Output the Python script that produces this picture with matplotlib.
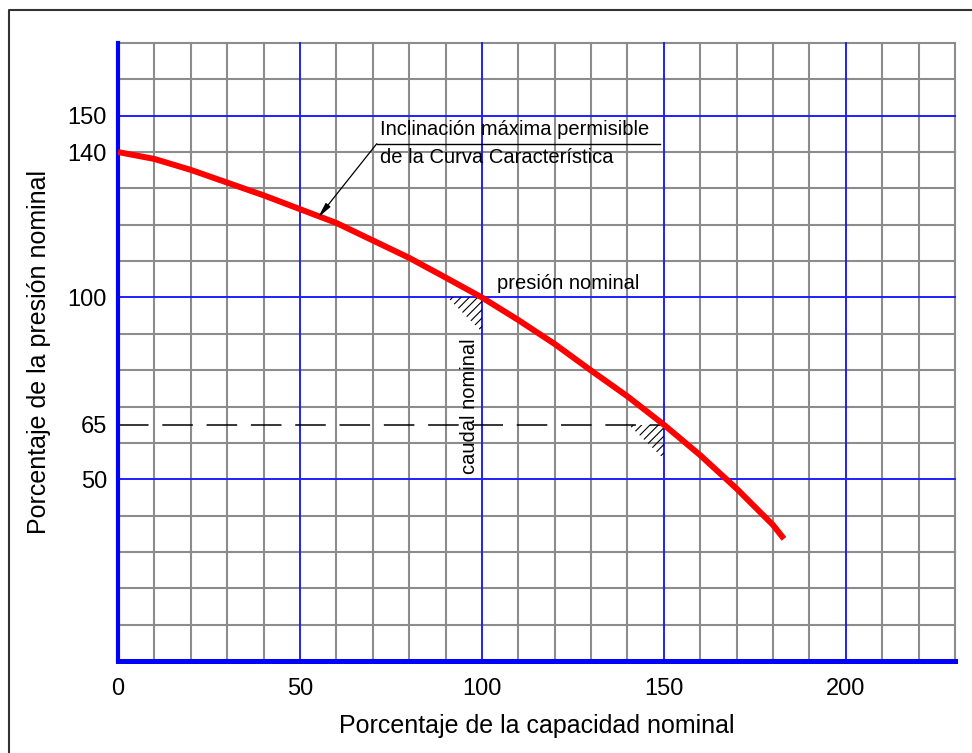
#!/usr/bin/env python3
"""Curva característica de una bomba contra incendio (porcentajes nominales)."""

import matplotlib.pyplot as plt
from matplotlib.lines import Line2D
from matplotlib.patches import Polygon

plt.rcParams["font.family"] = ["Liberation Sans", "DejaVu Sans"]
plt.rcParams["hatch.linewidth"] = 0.8

# curva característica
FLOW = [0, 10, 20, 30, 40, 50, 60, 70, 80, 90, 100,
        110, 120, 130, 140, 150, 160, 170, 180, 183]
PRESSURE = [140, 138.1, 135.1, 131.6, 128.1, 124.3, 120.5, 115.7, 110.9, 105.5, 100,
            93.8, 87.2, 79.9, 72.8, 65, 56.6, 47.4, 37.4, 33.6]

X_TICKS = [0, 50, 100, 150, 200]
Y_TICKS = [50, 65, 100, 140, 150]
X_MAX = 230
Y_MAX = 170

NOMINAL_FLOW = 100
NOMINAL_PRESSURE = 100
OVERLOAD_FLOW = 150
OVERLOAD_PRESSURE = 65

GRAY = "#8c8c8c"
BLUE = "#1f1fff"

fig = plt.figure(figsize=(9.72, 7.53), dpi=100)
ax = fig.add_axes([118 / 972, 92 / 753, 837 / 972, 618 / 753])
ax.set_xlim(0, X_MAX)
ax.set_ylim(0, Y_MAX)

# cuadrícula: gris cada 10, azul cada 50
for v in range(0, X_MAX + 1, 10):
    major = v % 50 == 0
    ax.axvline(v, color=BLUE if major else GRAY, lw=1.4 if major else 1.5,
               zorder=2 if major else 1, clip_on=False)
for v in range(0, Y_MAX + 1, 10):
    major = v % 50 == 0
    ax.axhline(v, color=BLUE if major else GRAY, lw=1.4 if major else 1.5,
               zorder=2 if major else 1, clip_on=False)

for name in ["top", "right"]:
    ax.spines[name].set_visible(False)
ax.spines["left"].set_color("#0000ff")
ax.spines["left"].set_linewidth(3.0)
ax.spines["bottom"].set_color("#0000ff")
ax.spines["bottom"].set_linewidth(3.6)
ax.spines["left"].set_zorder(4)
ax.spines["bottom"].set_zorder(4)

# línea de 65 % a trazos
ax.plot([0, OVERLOAD_FLOW], [OVERLOAD_PRESSURE, OVERLOAD_PRESSURE],
        color="black", lw=1.1, dashes=(20, 9), zorder=3)

# zonas rayadas en los puntos nominales
for fx, py in [(NOMINAL_FLOW, NOMINAL_PRESSURE), (OVERLOAD_FLOW, OVERLOAD_PRESSURE)]:
    tri = Polygon([(fx - 9.5, py), (fx, py), (fx, py - 9.5)], closed=True,
                  facecolor="none", edgecolor="black", lw=0, hatch="////", zorder=3)
    ax.add_patch(tri)

ax.plot(FLOW, PRESSURE, color="#ff0000", lw=4.3, solid_capstyle="butt",
        solid_joinstyle="round", zorder=5)

# anotaciones
ax.text(72.0, 146.3, "Inclinación máxima permisible", fontsize=14.5,
        ha="left", va="center", zorder=6)
ax.text(72.0, 138.6, "de la Curva Característica", fontsize=14.5,
        ha="left", va="center", zorder=6)
ax.plot([71.1, 149.0], [142.3, 142.3], color="black", lw=1.0, zorder=6)
ax.annotate("", xy=(55.0, 122.0), xytext=(71.1, 142.3),
            arrowprops=dict(arrowstyle="-|>,head_length=0.9,head_width=0.18",
                            color="black", lw=0.9, shrinkA=0, shrinkB=0),
            zorder=6)
ax.text(104.2, 103.8, "presión nominal", fontsize=14.5, ha="left", va="center", zorder=6)
ax.text(96.7, 70.0, "caudal nominal", fontsize=14.5, rotation=90,
        ha="center", va="center", zorder=6)

ax.set_xticks(X_TICKS)
ax.set_yticks(Y_TICKS)
ax.tick_params(axis="both", length=0, labelsize=17)
ax.tick_params(axis="x", pad=12)
ax.tick_params(axis="y", pad=8)
ax.set_xlabel("Porcentaje de la capacidad nominal", fontsize=18, labelpad=10)
ax.set_ylabel("Porcentaje de la presión nominal", fontsize=18, labelpad=12)

# marco exterior
fig.add_artist(Line2D([8.5 / 972, 8.5 / 972, 1.0], [0.0, 1 - 9.5 / 753, 1 - 9.5 / 753],
                      transform=fig.transFigure, color="#333333", lw=1.5))

fig.savefig("out.png", dpi=100)
